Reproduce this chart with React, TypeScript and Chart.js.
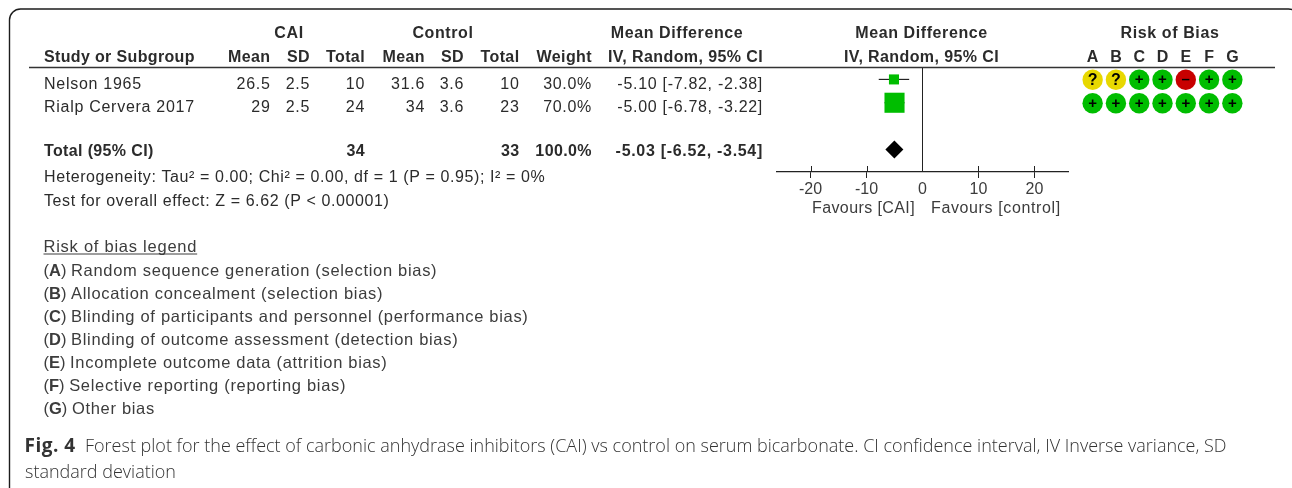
import React, { useEffect, useRef } from "react";
import { Chart, registerables } from "chart.js";

Chart.register(...registerables);

// ---- data ----
const studies = ["Nelson 1965", "Rialp Cervera 2017"];
const caiMean = ["26.5", "29"];
const caiSd = ["2.5", "2.5"];
const caiTotal = ["10", "24"];
const ctrlMean = ["31.6", "34"];
const ctrlSd = ["3.6", "3.6"];
const ctrlTotal = ["10", "23"];
const weights = ["30.0%", "70.0%"];
const mdValues = [-5.1, -5.0];
const mdLower = [-7.82, -6.78];
const mdUpper = [-2.38, -3.22];
const mdWeights = [30, 70];
const studyRows = [0, 1];
const totalRow = 3;
const totalLabel = "Total (95% CI)";
const totalCai = "34";
const totalCtrl = "33";
const totalWeight = "100.0%";
const totalMd = -5.03;
const totalLower = -6.52;
const totalUpper = -3.54;
const heterogeneity = "Heterogeneity: Tau² = 0.00; Chi² = 0.00, df = 1 (P = 0.95); I² = 0%";
const overallEffect = "Test for overall effect: Z = 6.62 (P < 0.00001)";
const axisTicks = [-20, -10, 0, 10, 20];
const favoursLeft = "Favours [CAI]";
const favoursRight = "Favours [control]";
const domains = ["A", "B", "C", "D", "E", "F", "G"];
const riskNelson = ["?", "?", "+", "+", "-", "+", "+"];
const riskRialp = ["+", "+", "+", "+", "+", "+", "+"];
const legendTitle = "Risk of bias legend";
const legendItems = [
  "Random sequence generation (selection bias)",
  "Allocation concealment (selection bias)",
  "Blinding of participants and personnel (performance bias)",
  "Blinding of outcome assessment (detection bias)",
  "Incomplete outcome data (attrition bias)",
  "Selective reporting (reporting bias)",
  "Other bias",
];
const captionLabel = "Fig. 4";
const captionLine1 = "Forest plot for the effect of carbonic anhydrase inhibitors (CAI) vs control on serum bicarbonate. CI confidence interval, IV Inverse variance, SD";
const captionLine2 = "standard deviation";

// ---- styling ----
const SANS = '"Liberation Sans", Arial, sans-serif';
const CAPTION = '"Open Sans", sans-serif';
const INK = "#2b2b2b";
const GREY = "#3c3c3c";
const GREEN = "#00bd00";
const riskColor: Record<string, string> = { "+": "#00bd00", "?": "#e8d800", "-": "#c80000" };
const riskGlyph: Record<string, string> = { "+": "+", "?": "?", "-": "–" };

function put(
  ctx: CanvasRenderingContext2D,
  s: string,
  x: number,
  y: number,
  o: { align?: CanvasTextAlign; bold?: boolean; weight?: number; size?: number; ls?: number; color?: string; family?: string } = {}
) {
  const weight = o.bold ? "bold " : o.weight ? `${o.weight} ` : "";
  ctx.font = `${weight}${o.size ?? 16}px ${o.family ?? SANS}`;
  (ctx as any).letterSpacing = `${o.ls ?? 0.65}px`;
  ctx.textAlign = o.align ?? "left";
  ctx.textBaseline = "alphabetic";
  ctx.fillStyle = o.color ?? INK;
  ctx.fillText(s, x, y);
  const w = ctx.measureText(s).width;
  (ctx as any).letterSpacing = "0px";
  return w;
}

const tablePlugin = {
  id: "table",
  beforeDraw(chart: any) {
    const ctx: CanvasRenderingContext2D = chart.ctx;
    ctx.save();
    // outer rounded frame
    ctx.strokeStyle = "#1c1c1c";
    ctx.lineWidth = 1.4;
    ctx.beginPath();
    ctx.roundRect(9.5, 9, 1290, 490, 11);
    ctx.stroke();
    // header rule
    ctx.strokeStyle = "#333";
    ctx.lineWidth = 1.3;
    ctx.beginPath();
    ctx.moveTo(29, 67.5);
    ctx.lineTo(1275, 67.5);
    ctx.stroke();

    const colX = [270.5, 310, 365, 425, 464, 519.5, 592, 763];
    const H1 = 38;
    const H2 = 62;
    const C = { align: "center" as CanvasTextAlign, bold: true, ls: 0.6 };
    const R = { align: "right" as CanvasTextAlign, bold: true, ls: 0.4 };
    put(ctx, "CAI", 289, H1, C);
    put(ctx, "Control", 443, H1, C);
    put(ctx, "Mean Difference", 677, H1, C);
    put(ctx, "Mean Difference", 921.5, H1, C);
    put(ctx, "Risk of Bias", 1170, H1, C);
    put(ctx, "Study or Subgroup", 44, H2, { bold: true, ls: 0.35 });
    ["Mean", "SD", "Total", "Mean", "SD", "Total", "Weight", "IV, Random, 95% CI"].forEach((t, i) =>
      put(ctx, t, colX[i], H2, R)
    );
    put(ctx, "IV, Random, 95% CI", 921.5, H2, { ...C, ls: 0.4 });

    const rowY = [89, 112];
    const rr = { align: "right" as CanvasTextAlign, ls: 0.7 };
    studies.forEach((name, i) => {
      const y = rowY[i];
      put(ctx, name, 44, y, { ls: 0.72 });
      const cells = [
        caiMean[i], caiSd[i], caiTotal[i], ctrlMean[i], ctrlSd[i], ctrlTotal[i], weights[i],
        `${mdValues[i].toFixed(2)} [${mdLower[i].toFixed(2)}, ${mdUpper[i].toFixed(2)}]`,
      ];
      cells.forEach((t, c) => put(ctx, t, colX[c], y, rr));
    });
    const ty = 155.5;
    put(ctx, totalLabel, 44, ty, { bold: true, ls: 0.36 });
    put(ctx, totalCai, colX[2], ty, R);
    put(ctx, totalCtrl, colX[5], ty, R);
    put(ctx, totalWeight, colX[6], ty, R);
    put(ctx, `${totalMd.toFixed(2)} [${totalLower.toFixed(2)}, ${totalUpper.toFixed(2)}]`, colX[7], ty, { ...R, ls: 0.7 });
    put(ctx, heterogeneity, 44, 181.5, { ls: 0.6 });
    put(ctx, overallEffect, 44, 205.5, { ls: 0.6 });

    put(ctx, favoursLeft, 812, 213, { color: GREY, ls: 0.4 });
    put(ctx, favoursRight, 931, 213, { color: GREY, ls: 0.62 });

    // legend
    const lx = 43.5;
    const w = put(ctx, legendTitle, lx, 251.5, { color: GREY, size: 16.5, ls: 0.75 });
    ctx.strokeStyle = GREY;
    ctx.lineWidth = 1;
    ctx.beginPath();
    ctx.moveTo(lx, 254);
    ctx.lineTo(lx + w, 254);
    ctx.stroke();
    legendItems.forEach((item, i) => {
      const y = 275.7 + i * 23.05;
      let x = lx;
      x += put(ctx, "(", x, y, { color: GREY, ls: 0, size: 16.5 });
      x += put(ctx, domains[i], x, y, { bold: true, color: GREY, ls: 0, size: 16.5 });
      x += put(ctx, ") ", x, y, { color: GREY, ls: 0, size: 16.5 });
      put(ctx, item, x, y, { color: GREY, size: 16.5, ls: 0.69 });
    });

    // caption
    put(ctx, captionLabel, 24.5, 451.7, { bold: true, family: CAPTION, size: 19, ls: 0.5, color: "#333" });
    put(ctx, captionLine1, 85, 451.7, { weight: 300, family: CAPTION, size: 18, ls: 0, color: "#333" });
    put(ctx, captionLine2, 25, 478, { weight: 300, family: CAPTION, size: 18, ls: 0, color: "#333" });
    ctx.restore();
  },
  afterDraw(chart: any) {
    // tick marks continue above the axis line
    const x = chart.scales.x;
    const ctx: CanvasRenderingContext2D = chart.ctx;
    ctx.save();
    ctx.strokeStyle = "#222";
    ctx.lineWidth = 1;
    ctx.beginPath();
    x.ticks.forEach((t: any) => {
      if (t.value === 0) return;
      const px = Math.round(x.getPixelForValue(t.value)) + 0.5;
      ctx.moveTo(px, chart.chartArea.bottom - 6);
      ctx.lineTo(px, chart.chartArea.bottom);
    });
    ctx.stroke();
    ctx.restore();
  },
};

const glyphPlugin = {
  id: "glyphs",
  afterDatasetsDraw(chart: any) {
    const ctx: CanvasRenderingContext2D = chart.ctx;
    ctx.save();
    chart.data.datasets.forEach((ds: any, di: number) => {
      chart.getDatasetMeta(di).data.forEach((el: any, i: number) => {
        const judgement = ds.judgements[i];
        ctx.font = `bold ${judgement === "?" ? 16 : 15}px ${SANS}`;
        ctx.textAlign = "center";
        ctx.textBaseline = "middle";
        ctx.fillStyle = "#000";
        ctx.fillText(riskGlyph[judgement], el.x, el.y + 0.5);
      });
    });
    ctx.restore();
  },
};

export default function App() {
  const forestRef = useRef<HTMLCanvasElement>(null);
  const riskRef = useRef<HTMLCanvasElement>(null);

  useEffect(() => {
    const ciSets = studies.map((s, i) => ({
      type: "line" as const,
      label: `${s} CI`,
      data: [
        { x: mdLower[i], y: studyRows[i] },
        { x: mdUpper[i], y: studyRows[i] },
      ],
      borderColor: "#222",
      borderWidth: 1.2,
      pointRadius: 0,
      order: 3,
    }));
    const forest = new Chart(forestRef.current!, {
      type: "scatter",
      data: {
        datasets: [
          ...ciSets,
          {
            label: "Study mean difference",
            data: mdValues.map((v, i) => ({ x: v, y: studyRows[i] })),
            pointStyle: "rect",
            pointRadius: mdWeights.map((w) => 7.1 + ((w - 30) / 40) * 7.1),
            backgroundColor: GREEN,
            borderWidth: 0,
            order: 2,
          },
          {
            label: "Total",
            data: [{ x: totalMd, y: totalRow }],
            pointStyle: "rectRot",
            pointRadius: 9,
            backgroundColor: "#000",
            borderWidth: 0,
            order: 1,
          },
        ],
      } as any,
      options: {
        animation: false,
        responsive: false,
        layout: { autoPadding: false, padding: { left: 777, right: 224, top: 68, bottom: 286 } },
        plugins: { legend: { display: false }, tooltip: { enabled: false } },
        scales: {
          x: {
            type: "linear",
            min: -26,
            max: 26,
            afterBuildTicks: (s: any) => {
              s.ticks = axisTicks.map((value) => ({ value }));
            },
            afterFit: (s: any) => {
              s.height = 30;
            },
            border: { display: true, color: "#222", width: 1.2 },
            grid: {
              color: (c: any) => (c.tick && c.tick.value === 0 ? "#222" : "rgba(0,0,0,0)"),
              tickColor: (c: any) => (c.tick && c.tick.value === 0 ? "rgba(0,0,0,0)" : "#222"),
              tickLength: 6,
              drawOnChartArea: true,
            },
            ticks: {
              color: GREY,
              font: { family: SANS, size: 16 },
              padding: 2,
              maxRotation: 0,
              autoSkip: false,
            },
          },
          y: { type: "linear", reverse: true, min: -0.49, max: 3.97, display: false },
        },
      } as any,
      plugins: [tablePlugin],
    });

    const riskSet = (study: string, risks: string[]) => ({
      label: study,
      data: risks.map((_, i) => ({ x: domains[i], y: study })),
      judgements: risks,
      pointStyle: "circle",
      pointRadius: 10.2,
      borderWidth: 0,
      backgroundColor: risks.map((r) => riskColor[r]),
    });
    const risk = new Chart(riskRef.current!, {
      type: "scatter",
      data: { datasets: [riskSet(studies[0], riskNelson), riskSet(studies[1], riskRialp)] } as any,
      options: {
        animation: false,
        responsive: false,
        layout: { autoPadding: false, padding: { left: 11, right: 16, top: 0, bottom: 5 } },
        plugins: { legend: { display: false }, tooltip: { enabled: false } },
        scales: {
          x: {
            type: "category",
            labels: domains,
            position: "top",
            offset: true,
            afterFit: (s: any) => {
              s.height = 28;
            },
            border: { display: false },
            grid: { display: false },
            ticks: { color: INK, font: { family: SANS, size: 16, weight: "bold" }, padding: -7, maxRotation: 0, autoSkip: false },
          },
          y: { type: "category", labels: studies, offset: true, display: false },
        },
      } as any,
      plugins: [glyphPlugin],
    });
    return () => {
      forest.destroy();
      risk.destroy();
    };
  }, []);

  return (
    <div style={{ position: "absolute", left: 0, top: 0, width: 1292, height: 488, overflow: "hidden", background: "#fff", filter: "blur(0.35px)" }}>
      <canvas ref={forestRef} width={1292} height={488} style={{ position: "absolute", left: 0, top: 0 }} />
      <canvas ref={riskRef} width={190} height={80} style={{ position: "absolute", left: 1070, top: 40 }} />
    </div>
  );
}
